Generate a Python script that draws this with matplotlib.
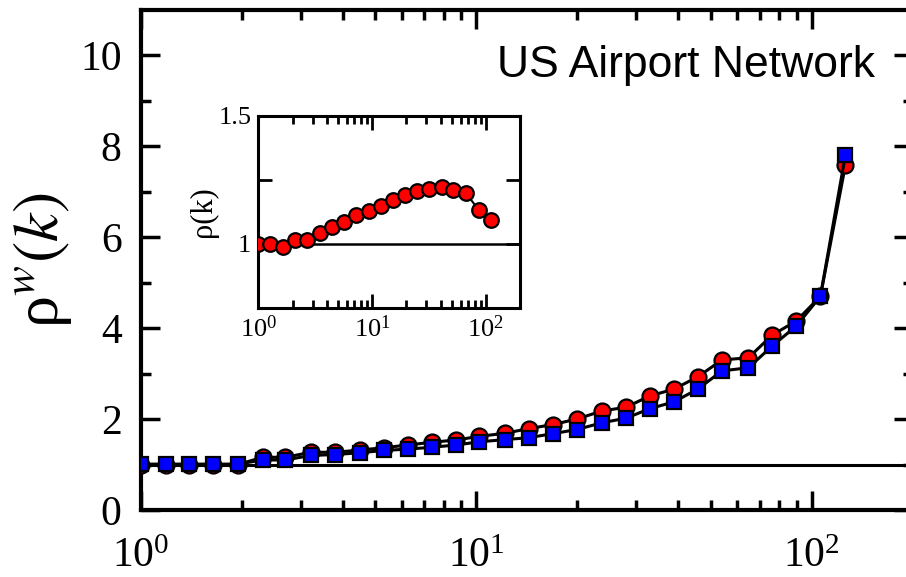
import matplotlib
matplotlib.use("Agg")
import matplotlib.pyplot as plt
from matplotlib.ticker import LogLocator, LogFormatterMathtext, NullFormatter, FixedLocator

plt.rcParams['font.family'] = ['Liberation Serif', 'DejaVu Serif']
plt.rcParams['mathtext.fontset'] = 'stix'

# degree bins (log spaced)
k = [1.0, 1.185, 1.39, 1.64, 1.94, 2.31, 2.69, 3.21, 3.79, 4.50,
     5.30, 6.24, 7.35, 8.69, 10.2, 12.2, 14.3, 16.9, 19.9, 23.7,
     27.9, 32.9, 38.8, 45.7, 53.9, 64.7, 76.2, 89.9, 106.0, 125.8]
rho_red = [1.0, 1.0, 1.0, 1.0, 1.0, 1.16, 1.16, 1.27, 1.27, 1.32,
           1.37, 1.43, 1.49, 1.54, 1.62, 1.69, 1.79, 1.88, 2.00, 2.18,
           2.26, 2.51, 2.66, 2.93, 3.30, 3.35, 3.85, 4.16, 4.70, 7.58]
rho_blue = [1.01, 1.01, 1.01, 1.01, 1.01, 1.10, 1.10, 1.20, 1.22, 1.26,
            1.31, 1.34, 1.38, 1.43, 1.50, 1.55, 1.59, 1.68, 1.77, 1.92,
            2.02, 2.23, 2.38, 2.66, 3.06, 3.13, 3.61, 4.05, 4.70, 7.80]

# inset data
k_in = [1.0, 1.28, 1.66, 2.09, 2.69, 3.47, 4.48, 5.62, 7.28, 9.31,
        11.9, 15.2, 19.5, 24.9, 31.8, 41.2, 52.0, 66.8, 87.3, 112.0]
rho_in = [1.0, 1.0, 0.99, 1.014, 1.014, 1.043, 1.066, 1.086, 1.114, 1.127,
          1.149, 1.173, 1.192, 1.208, 1.214, 1.221, 1.212, 1.199, 1.131, 1.092]

fig = plt.figure(figsize=(9.06, 5.77), dpi=100)
ax = fig.add_axes([0.1556, 0.1161, 0.852, 0.8666])

ax.axhline(1.0, color='black', lw=2.2, zorder=1)
ax.plot(k, rho_red, '-o', color='black', lw=2.2, ms=11.5, mfc='#ff0000',
        mec='black', mew=1.6, zorder=3)
ax.plot(k, rho_blue, '-s', color='black', lw=2.2, ms=10, mfc='#0000ff',
        mec='black', mew=1.6, zorder=4)

ax.set_xscale('log')
ax.set_xlim(1, 200)
ax.set_ylim(0, 11)
ax.set_yticks([0, 2, 4, 6, 8, 10])
ax.set_yticks([1, 3, 5, 7, 9], minor=True)
ax.xaxis.set_major_locator(LogLocator(base=10))
ax.xaxis.set_minor_locator(LogLocator(base=10, subs=range(2, 10)))
ax.xaxis.set_major_formatter(LogFormatterMathtext())
ax.xaxis.set_minor_formatter(NullFormatter())
ax.tick_params(which='both', direction='in', top=True, right=True, width=2.5)
ax.tick_params(which='major', length=14, labelsize=30)
ax.tick_params(which='minor', length=7)
ax.tick_params(axis='x', which='major', pad=20)
ax.tick_params(axis='y', which='major', pad=14)
for s in ax.spines.values():
    s.set_linewidth(3)

ax.set_ylabel('ρ$^{w}$$(k)$', fontsize=46, labelpad=4)

fig.text(875 / 906, 1 - 65 / 577, 'US Airport Network', family='Liberation Sans',
         fontsize=32, ha='right', va='center')

# inset
axin = fig.add_axes([0.2851, 0.4662, 0.2889, 0.3328])
axin.axhline(1.0, color='black', lw=1.8, zorder=1)
axin.plot(k_in, rho_in, '-o', color='black', lw=1.5, ms=10.5, mfc='#ff0000',
          mec='black', mew=1.6, zorder=3)
axin.set_xscale('log')
axin.set_xlim(1, 200)
axin.set_ylim(0.75, 1.5)
axin.yaxis.set_major_locator(FixedLocator([0.75, 1.0, 1.25, 1.5]))
axin.set_yticklabels(['', '1', '', '1.5'])
axin.xaxis.set_major_locator(LogLocator(base=10))
axin.xaxis.set_minor_locator(LogLocator(base=10, subs=range(2, 10)))
axin.xaxis.set_major_formatter(LogFormatterMathtext())
axin.xaxis.set_minor_formatter(NullFormatter())
axin.tick_params(which='both', direction='in', top=True, right=True, width=2)
axin.tick_params(which='major', length=10, labelsize=19, pad=5)
axin.tick_params(which='minor', length=6)
for s in axin.spines.values():
    s.set_linewidth(2.2)
axin.set_ylabel('ρ(k)', fontsize=22, labelpad=0)

fig.savefig('out.png', dpi=100)
